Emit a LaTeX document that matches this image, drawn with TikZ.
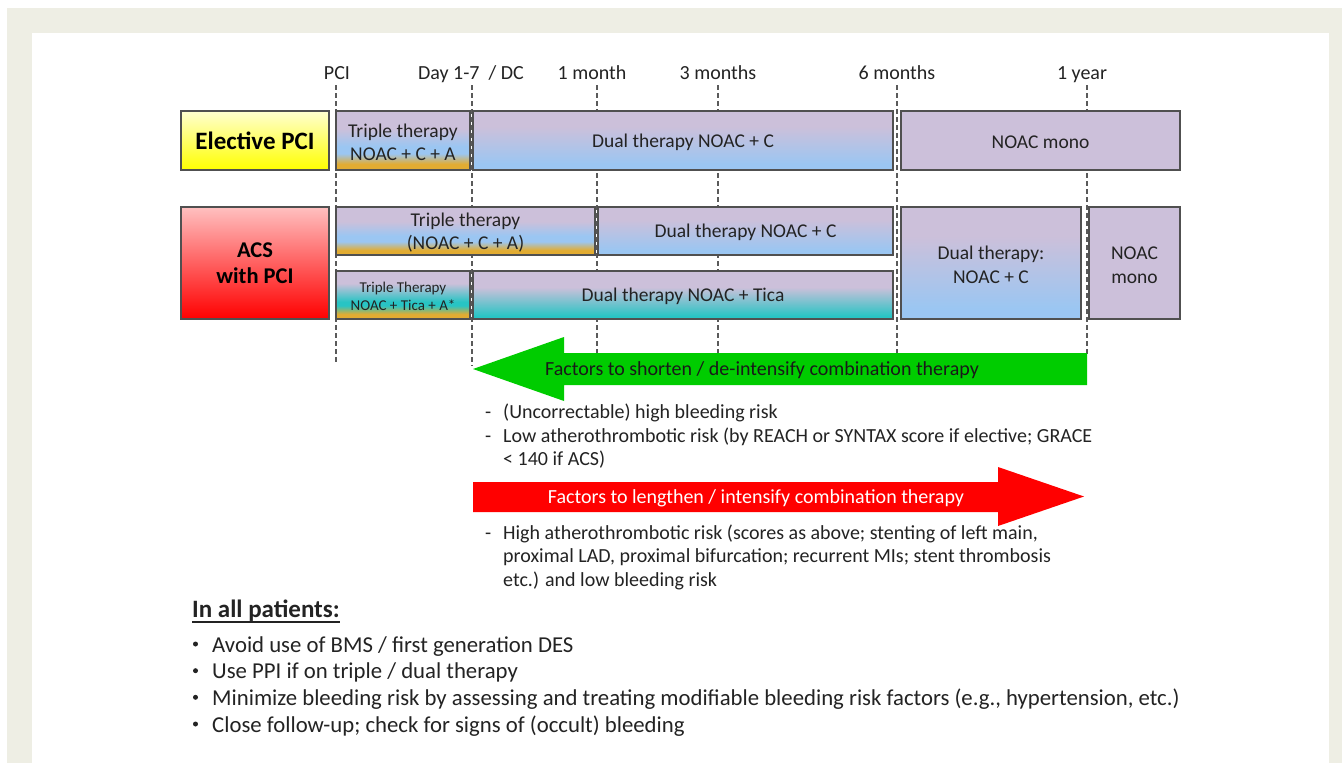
\documentclass[tikz,border=0pt]{standalone}
\usepackage{fontspec}
\setmainfont{Carlito}
\definecolor{cbeige}{RGB}{238,238,228}
\definecolor{cborder}{RGB}{80,80,80}
\definecolor{ctext}{RGB}{35,35,35}
\definecolor{cpurp}{RGB}{204,192,218}
\definecolor{cblue}{RGB}{155,198,242}
\definecolor{cgold}{RGB}{226,172,50}
\definecolor{cteal}{RGB}{40,196,196}
\definecolor{cgreen}{RGB}{0,204,0}
\definecolor{cred}{RGB}{255,0,0}
\definecolor{ctick}{RGB}{90,90,90}
\pgfdeclareverticalshading{shtriple}{100bp}{color(0bp)=(cgold); color(30bp)=(cgold); color(39bp)=(cblue); color(45bp)=(cblue); color(60bp)=(cpurp); color(100bp)=(cpurp)}
\pgfdeclareverticalshading{shtritica}{100bp}{color(0bp)=(cgold); color(30bp)=(cgold); color(39bp)=(cteal); color(43bp)=(cteal); color(62bp)=(cpurp); color(100bp)=(cpurp)}
\pgfdeclareverticalshading{shdual}{100bp}{color(0bp)=(cblue); color(30bp)=(cblue); color(62bp)=(cpurp); color(100bp)=(cpurp)}
\pgfdeclareverticalshading{shtica}{100bp}{color(0bp)=(cteal); color(28bp)=(cteal); color(58bp)=(cpurp); color(100bp)=(cpurp)}
\begin{document}
\begin{tikzpicture}[x=1pt,y=-1pt,
  lbl/.style={font=\fontsize{20}{24}\selectfont, text=ctext, anchor=base, inner sep=0pt},
  tbox/.style={draw=cborder, line width=1.1pt, align=center, inner sep=0pt, text=ctext, font=\fontsize{19.5}{23}\selectfont},
  tick/.style={draw=ctick, line width=1.3pt, dash pattern=on 5pt off 3pt},
  body/.style={font=\fontsize{20}{23.5}\selectfont, text=ctext, anchor=base west, inner sep=0pt},
  bull/.style={font=\fontsize{22.75}{26}\selectfont, text=ctext, anchor=base west, inner sep=0pt},
  dot/.style={circle, fill=ctext, inner sep=0pt, minimum size=5pt}]
\useasboundingbox (0,0) rectangle (1342,763);
\fill[white] (0,0) rectangle (1342,763);
\fill[cbeige] (7,8) rectangle (1342,763);
\fill[white] (32,33) rectangle (1329,763);
% time labels
\node[lbl] (lpci) at (337,79) {PCI};
\node[lbl] (lday) at (471,79) {Day 1-7\ \ / DC};
\node[lbl] (lm1) at (592,79) {1 month};
\node[lbl] (lm3) at (718,79) {3 months};
\node[lbl] (lm6) at (897,79) {6 months};
\node[lbl] (ly1) at (1082,79) {1 year};
% dashed time lines
\foreach \n/\x/\yb in {a/336/362, b/472/366, c/597/354, d/718/354, e/897/354, f/1087/354}{
  \coordinate (t\n) at (\x,85);
  \coordinate (b\n) at (\x,\yb);
  \draw[tick] (t\n) -- (b\n);
}
% elective row
\node[tbox, top color={rgb,255:red,255;green,255;blue,208}, bottom color={rgb,255:red,255;green,255;blue,0},
  minimum width=148pt, minimum height=59pt, text=black, font=\fontsize{25}{28}\selectfont\bfseries] (epci) at (255,140.5) {Elective PCI};
\node[tbox, shade, shading=shtriple, minimum width=134pt, minimum height=59pt] (etri) at (403,140.5) {\rule{0pt}{17pt}Triple therapy\\NOAC + C + A};
\node[tbox, shade, shading=shdual, minimum width=420pt, minimum height=59pt] (edual) at (683,140.5) {\rule{0pt}{17pt}Dual therapy NOAC + C};
\node[tbox, fill=cpurp, minimum width=279pt, minimum height=59pt] (emono) at (1040.5,140.5) {\rule{0pt}{17pt}NOAC mono};
% ACS rows
\node[tbox, top color={rgb,255:red,255;green,192;blue,192}, bottom color={rgb,255:red,255;green,0;blue,0},
  minimum width=148pt, minimum height=112pt, text=black, font=\fontsize{22.5}{26}\selectfont\bfseries] (acs) at (255,263) {ACS\\with PCI};
\node[tbox, shade, shading=shtriple, minimum width=259pt, minimum height=48pt] (atri) at (465.5,231) {\rule{0pt}{17pt}Triple therapy\\(NOAC + C + A)};
\node[tbox, shade, shading=shdual, minimum width=295pt, minimum height=48pt] (adual) at (745.5,231) {\rule{0pt}{17pt}Dual therapy NOAC + C};
\node[tbox, shade, shading=shtritica, minimum width=134pt, minimum height=48pt, font=\fontsize{15}{18}\selectfont] (ttri) at (403,295) {\rule{0pt}{13pt}Triple Therapy\\NOAC + Tica + A*};
\node[tbox, shade, shading=shtica, minimum width=420pt, minimum height=48pt] (tdual) at (683,295) {\rule{0pt}{17pt}Dual therapy NOAC + Tica};
\node[tbox, shade, shading=shdual, minimum width=180pt, minimum height=112pt, font=\fontsize{19.5}{24}\selectfont] (adual2) at (991,263) {\rule{0pt}{17pt}Dual therapy:\\NOAC + C};
\node[tbox, fill=cpurp, minimum width=91pt, minimum height=112pt, font=\fontsize{19.5}{24}\selectfont] (amono) at (1134.5,263) {\rule{0pt}{17pt}NOAC\\mono};
% arrows
\fill[cgreen] (1087,353) -- (564,353) -- (564,337) -- (473,369) -- (564,401) -- (564,385) -- (1087,385) -- cycle;
\node[lbl, anchor=center, text=black!90] (gtxt) at (762,370) {Factors to shorten / de-intensify combination therapy};
\fill[cred] (473,482) -- (998,482) -- (998,467) -- (1084,496.5) -- (998,526) -- (998,512) -- (473,512) -- cycle;
\node[lbl, anchor=center, text=white] (rtxt) at (756,498) {Factors to lengthen / intensify combination therapy};
% shorten factors
\node[body] (gd1) at (485,418) {-};
\node[body] (g1) at (503,418) {(Uncorrectable) high bleeding risk};
\node[body] (gd2) at (485,442) {-};
\node[body] (g2) at (503,442) {Low atherothrombotic risk (by REACH or SYNTAX score if elective; GRACE};
\node[body] (g3) at (503,465.5) {< 140 if ACS)};
% lengthen factors
\node[body] (rd1) at (485,539) {-};
\node[body] (r1) at (503,539) {High atherothrombotic risk (scores as above; stenting of left main,};
\node[body] (r2) at (503,562.5) {proximal LAD, proximal bifurcation; recurrent MIs; stent thrombosis};
\node[body] (r3) at (503,586) {etc.) and low bleeding risk};
% all patients
\node[body, font=\fontsize{25}{28}\selectfont\bfseries] (ial) at (192,617) {In all patients:};
\draw[ctext, line width=1.5pt] ([yshift=-5pt]ial.base west) -- ([yshift=-5pt]ial.base east);
\node[dot] (b1d) at (195.5,644) {};
\node[bull] (b1) at (212,652) {Avoid use of BMS / first generation DES};
\node[dot] (b2d) at (195.5,670.7) {};
\node[bull] (b2) at (212,678.7) {Use PPI if on triple / dual therapy};
\node[dot] (b3d) at (195.5,697.3) {};
\node[bull] (b3) at (212,705.3) {Minimize bleeding risk by assessing and treating modifiable bleeding risk factors (e.g., hypertension, etc.)};
\node[dot] (b4d) at (195.5,724) {};
\node[bull] (b4) at (212,732) {Close follow-up; check for signs of (occult) bleeding};
\end{tikzpicture}
\end{document}
